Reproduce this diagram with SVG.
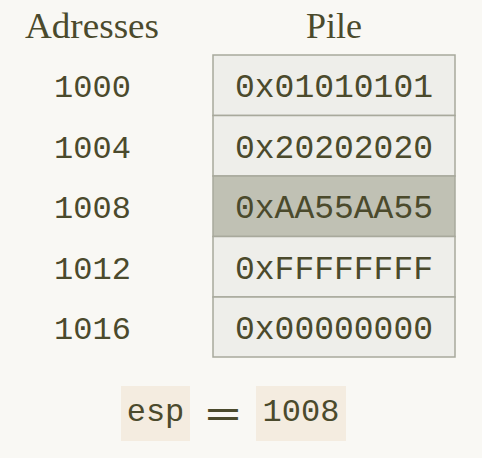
<svg xmlns="http://www.w3.org/2000/svg" width="482" height="458" viewBox="0 0 482 458">
<style>
.bg{fill:#f9f8f4}
.t{fill:#4b4a2c}
.mono{font-family:"Liberation Mono","DejaVu Sans Mono",monospace;font-size:32px;text-anchor:middle}
.hex{font-size:33px}
.head{font-family:"Liberation Serif","DejaVu Serif",serif;font-size:36px;text-anchor:middle}
.cell{fill:#eeeeea;stroke:#a8a99c;stroke-width:1.5}
.hl{fill:#c0c1b4}
.tag{fill:#f4ece0}
</style>
<rect class="bg" x="0" y="0" width="482" height="458"/>
<g id="headers">
<text class="t head" x="92" y="38" textLength="134" lengthAdjust="spacingAndGlyphs">Adresses</text>
<text class="t head" x="334" y="38">Pile</text>
</g>
<g id="addresses">
<text class="t mono" x="92.5" y="97">1000</text>
<text class="t mono" x="92.5" y="157.5">1004</text>
<text class="t mono" x="92.5" y="218">1008</text>
<text class="t mono" x="92.5" y="278.5">1012</text>
<text class="t mono" x="92.5" y="339">1016</text>
</g>
<g id="stack">
<g id="cell0"><rect class="cell" x="213" y="55" width="242" height="60.5"/><text class="t mono hex" x="334" y="97">0x01010101</text></g>
<g id="cell1"><rect class="cell" x="213" y="115.5" width="242" height="60.5"/><text class="t mono hex" x="334" y="157.5">0x20202020</text></g>
<g id="cell2"><rect class="cell hl" x="213" y="176" width="242" height="60.5"/><text class="t mono hex" x="334" y="218">0xAA55AA55</text></g>
<g id="cell3"><rect class="cell" x="213" y="236.5" width="242" height="60.5"/><text class="t mono hex" x="334" y="278.5">0xFFFFFFFF</text></g>
<g id="cell4"><rect class="cell" x="213" y="297" width="242" height="60"/><text class="t mono hex" x="334" y="339">0x00000000</text></g>
</g>
<g id="esp">
<rect class="tag" x="121" y="386" width="69" height="55"/>
<text class="t mono" x="155.5" y="421">esp</text>
<text class="t" x="223" y="426" font-family="DejaVu Sans, sans-serif" font-size="38" text-anchor="middle" textLength="40" lengthAdjust="spacingAndGlyphs">=</text>
<rect class="tag" x="256" y="386" width="90" height="55"/>
<text class="t mono" x="301" y="421">1008</text>
</g>
<g id="connectors"/>
</svg>
